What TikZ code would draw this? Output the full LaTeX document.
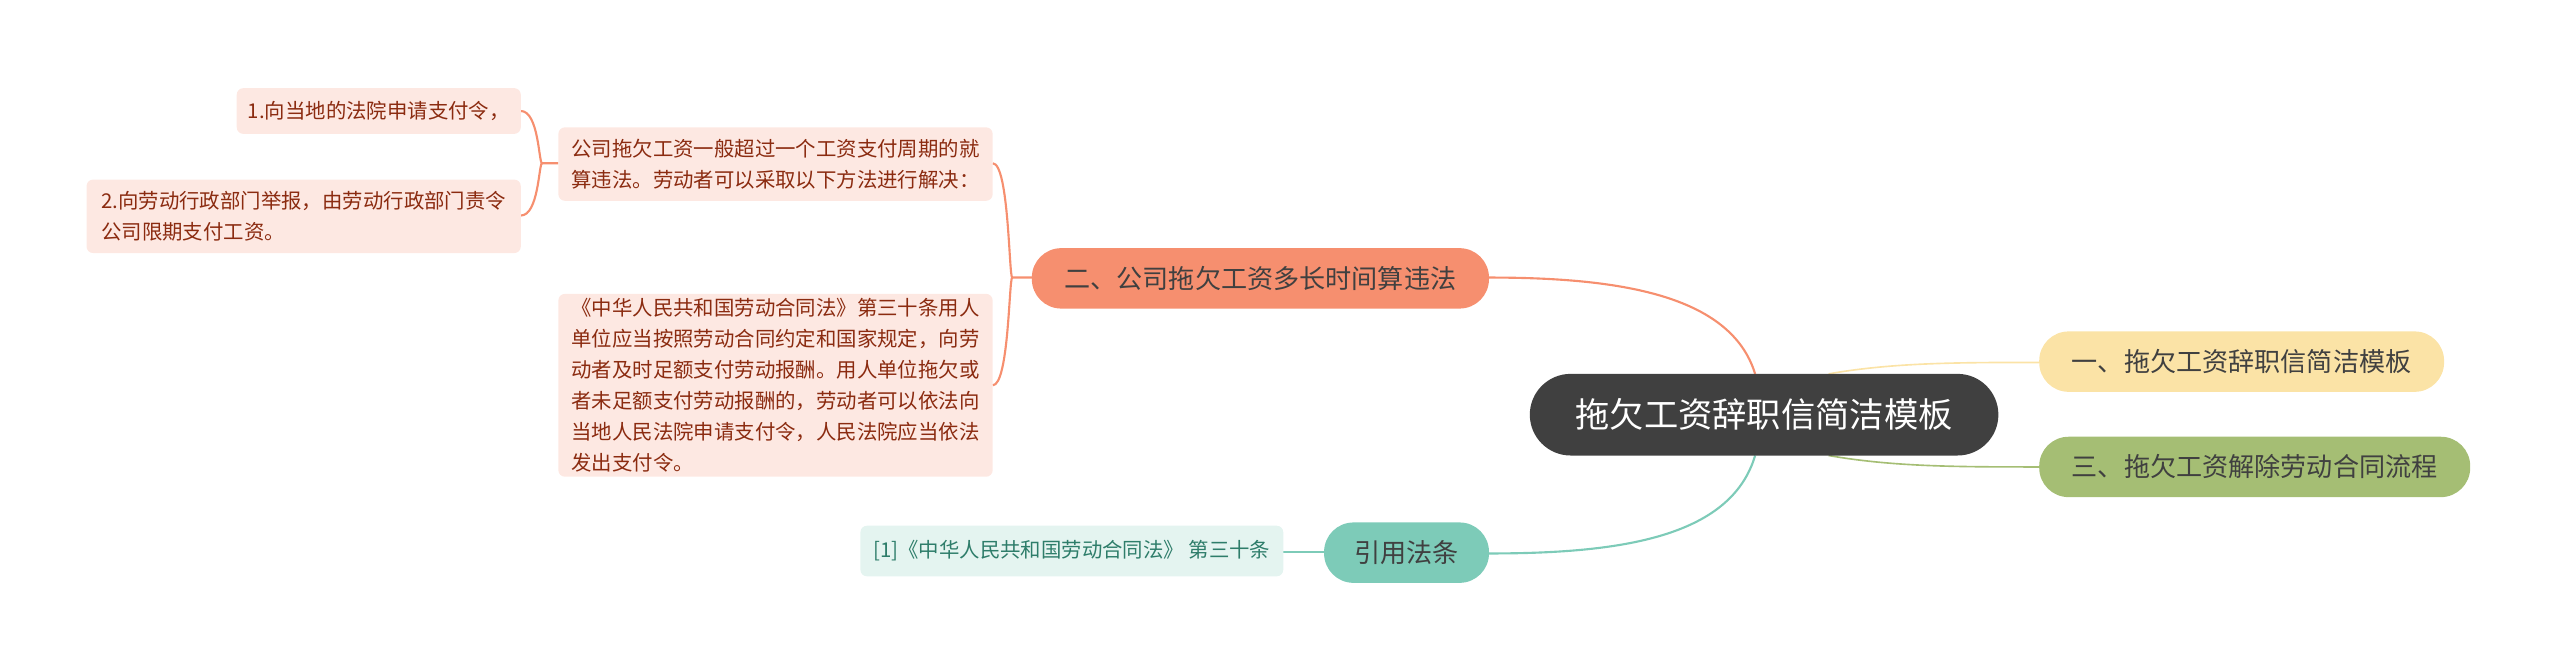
\documentclass[tikz,border=0pt]{standalone}
\usepackage{fontspec}
\setmainfont{Noto Sans CJK SC}
\begin{document}
\begin{tikzpicture}[x=1pt,y=-1pt,
  leaf/.style={rounded corners=4pt,fill=#1,inner sep=0pt},
  ln/.style={line width=1.3pt}]
\definecolor{org}{HTML}{F68F6F}\definecolor{orl}{HTML}{FDE8E2}\definecolor{ort}{HTML}{8B2B10}
\definecolor{tea}{HTML}{7DCBB8}\definecolor{tel}{HTML}{E4F4F0}\definecolor{tet}{HTML}{2E7D6A}
\definecolor{yel}{HTML}{FBE3A6}\definecolor{grn}{HTML}{A5BE74}\definecolor{dk}{HTML}{404040}
\useasboundingbox (0,0) rectangle (1568,411);
% connectors
\draw[ln,org] (1075,229) .. controls (1060,180) and (990,170) .. (912,170);
\draw[ln,tea] (1075,279) .. controls (1060,330) and (990,339) .. (912,339);
\draw[line width=1pt,yel] (1120,229) .. controls (1160,222) and (1200,222) .. (1249,222);
\draw[line width=1pt,grn] (1120,279) .. controls (1160,286) and (1200,286) .. (1249,286);
\draw[ln,org] (632,170) -- (620,170) .. controls (618,170) and (618,100) .. (608,100);
\draw[ln,org] (620,170) .. controls (618,170) and (618,236) .. (608,236);
\draw[ln,org] (342,100) -- (332,100) .. controls (330,100) and (330,68) .. (319,68);
\draw[ln,org] (332,100) .. controls (330,100) and (330,132) .. (319,132);
\draw[ln,tea] (811,338) -- (786,338);
% nodes
\node[rounded corners=25pt,fill=dk,text=white,minimum width=287pt,minimum height=50pt,font=\fontsize{21}{21}\selectfont] (c) at (1080.5,254) {拖欠工资辞职信简洁模板};
\node[rounded corners=18pt,fill=yel,text=dk,minimum width=248pt,minimum height=37pt,font=\fontsize{16}{16}\selectfont] (r1) at (1373,221.5) {一、拖欠工资辞职信简洁模板};
\node[rounded corners=18pt,fill=grn,text=dk,minimum width=264pt,minimum height=37pt,font=\fontsize{16}{16}\selectfont] (r3) at (1381,286) {三、拖欠工资解除劳动合同流程};
\node[rounded corners=18pt,fill=org,text=dk,minimum width=280pt,minimum height=37pt,font=\fontsize{16}{16}\selectfont] (l2) at (772,170.5) {二、公司拖欠工资多长时间算违法};
\node[rounded corners=18pt,fill=tea,text=dk,minimum width=101pt,minimum height=37pt,font=\fontsize{16}{16}\selectfont] (lr) at (861.5,338.5) {引用法条};
\node[leaf=tel,text=tet,minimum width=259pt,minimum height=31pt,font=\fontsize{12.5}{12.5}\selectfont] (law) at (656.5,337.5) {[1]《中华人民共和国劳动合同法》 第三十条};
\node[leaf=orl,text=ort,minimum width=266pt,minimum height=45pt,align=left,font=\fontsize{12.5}{19}\selectfont] (a) at (475,100.5) {公司拖欠工资一般超过一个工资支付周期的就\\算违法。劳动者可以采取以下方法进行解决：};
\node[leaf=orl,text=ort,minimum width=266pt,minimum height=112pt,align=left,font=\fontsize{12.5}{19}\selectfont] (b) at (475,236) {《中华人民共和国劳动合同法》第三十条用人\\单位应当按照劳动合同约定和国家规定，向劳\\动者及时足额支付劳动报酬。用人单位拖欠或\\者未足额支付劳动报酬的，劳动者可以依法向\\当地人民法院申请支付令，人民法院应当依法\\发出支付令。};
\node[leaf=orl,text=ort,minimum width=174pt,minimum height=28pt,font=\fontsize{12.5}{12.5}\selectfont] (a1) at (232,68) {1.向当地的法院申请支付令，};
\node[leaf=orl,text=ort,minimum width=266pt,minimum height=45pt,align=left,font=\fontsize{12.5}{19}\selectfont] (a2) at (186,132.5) {2.向劳动行政部门举报，由劳动行政部门责令\\公司限期支付工资。};
\end{tikzpicture}
\end{document}
